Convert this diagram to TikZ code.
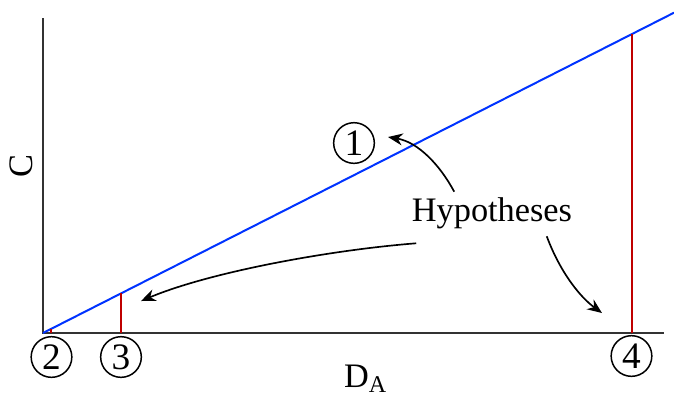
\documentclass[tikz,border=0pt]{standalone}
\usepackage{fontspec}
\setmainfont{Liberation Serif}
\usetikzlibrary{arrows.meta}
\begin{document}
\begin{tikzpicture}[x=0.3pt, y=-0.3pt,
  num/.style={draw, circle, minimum size=12.2pt, inner sep=0pt, line width=0.45pt, font=\fontsize{11.2}{12}\selectfont},
  lbl/.style={font=\fontsize{10.3}{12}\selectfont, inner sep=0pt},
  hyparrow/.style={-{Stealth[length=4.4pt, width=3.6pt]}, line width=0.5pt},
]
\useasboundingbox (0,0) rectangle (674,397);
% Axes
\coordinate (o) at (43,333);
\draw[line width=0.6pt, black!80] (43,18) -- (o) -- (664,333);
% Line C = k D_A
\draw[line width=0.6pt, blue!80!cyan] (o) -- (674,12.7);
% Vertical markers
\draw[line width=0.45pt, red!75!black] (51,333) -- (51,329);
\draw[line width=0.45pt, red!75!black] (121,333) -- (121,293.4);
\draw[line width=0.45pt, red!75!black] (632,333) -- (632,34);
% Circled numbers
\node[num] (n1) at (354,143) {1};
\node[num] (n2) at (51.5,357) {2};
\node[num] (n3) at (121,357) {3};
\node[num] (n4) at (631.5,356) {4};
% Axis labels
\node[lbl, rotate=90] (ylab) at (21,166) {C};
\node[lbl] (xlab) at (366,379) {D\textsubscript{A}};
% Hypotheses
\node[lbl] (hyp) at (492,213) {Hypotheses};
\coordinate (t1) at (388,137);
\coordinate (t2) at (141,301);
\coordinate (t3) at (602,313);
\draw[hyparrow] (hyp.north west) ++(43,-5) .. controls (440,165) and (418,142) .. (t1);
\draw[hyparrow] (hyp.south west) ++(5,14) .. controls (330,250) and (210,272) .. (t2);
\draw[hyparrow] (hyp.south east) ++(-26,7) .. controls (560,272) and (580,297) .. (t3);
\end{tikzpicture}
\end{document}
